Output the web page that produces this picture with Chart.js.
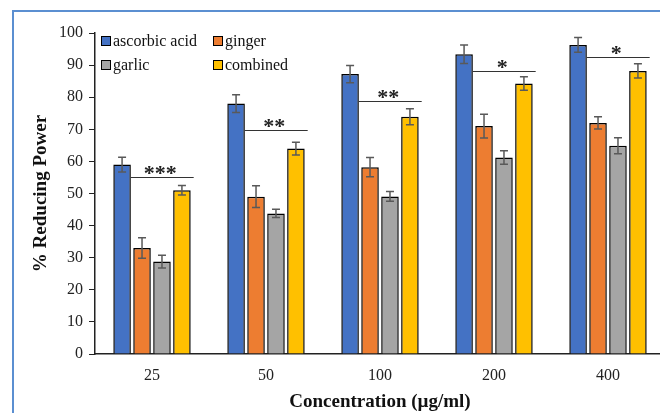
<!DOCTYPE html>
<html lang="en">
<head>
  <meta charset="UTF-8">
  <title>% Reducing Power</title>
  <script src="https://cdn.jsdelivr.net/npm/chart.js"></script>
  <style>
    html, body { margin: 0; padding: 0; background: #fff; overflow: hidden; }
    .wrap { position: relative; width: 665px; height: 413px; }
    .frame { position: absolute; left: 12px; top: 10px; width: 700px; height: 500px;
             border-left: 2px solid #5b8fd1; border-top: 2px solid #5b8fd1; pointer-events: none; }
  </style>
</head>
<body>
<div class="wrap">
  <canvas id="chart"></canvas>
  <div class="frame"></div>
</div>

<script>
  // values
  const categories = ['25', '50', '100', '200', '400'];
  const ascorbic = [59, 78, 87.2, 93.4, 96.3];
  const ginger = [33, 49, 58.2, 71, 72];
  const garlic = [28.8, 43.8, 49.1, 61.2, 64.9];
  const combined = [51, 64, 73.9, 84.3, 88.2];
  const ascorbicErr = [2.3, 2.8, 2.7, 2.9, 2.3];
  const gingerErr = [3.2, 3.4, 3, 3.7, 1.9];
  const garlicErr = [2, 1.3, 1.5, 2.1, 2.5];
  const combinedErr = [1.5, 2, 2.5, 2.1, 2.2];
  const sigLabels = ['***', '**', '**', '*', '*'];
  const sigLevel = [55, 69.7, 78.7, 88.3, 92.4];

  const serif = "'Liberation Serif', 'Times New Roman', serif";
  const errors = [ascorbicErr, gingerErr, garlicErr, combinedErr];

  const errorBars = {
    id: 'errorBars',
    afterDatasetsDraw(chart) {
      const ctx = chart.ctx, y = chart.scales.y;
      ctx.save();
      ctx.strokeStyle = '#595959';
      ctx.lineWidth = 1.5;
      chart.data.datasets.forEach((ds, i) => {
        chart.getDatasetMeta(i).data.forEach((bar, j) => {
          const v = ds.data[j], e = errors[i][j];
          const top = y.getPixelForValue(v + e), bot = y.getPixelForValue(v - e);
          ctx.beginPath();
          ctx.moveTo(bar.x, top); ctx.lineTo(bar.x, bot);
          ctx.moveTo(bar.x - 4, top); ctx.lineTo(bar.x + 4, top);
          ctx.moveTo(bar.x - 4, bot); ctx.lineTo(bar.x + 4, bot);
          ctx.stroke();
        });
      });
      ctx.restore();
    }
  };

  const significance = {
    id: 'significance',
    afterDatasetsDraw(chart) {
      const ctx = chart.ctx, y = chart.scales.y;
      const first = chart.getDatasetMeta(0).data, last = chart.getDatasetMeta(3).data;
      ctx.save();
      ctx.strokeStyle = '#333';
      ctx.lineWidth = 1;
      ctx.fillStyle = '#222';
      ctx.font = 'bold 22px ' + serif;
      ctx.textAlign = 'center';
      ctx.textBaseline = 'alphabetic';
      sigLevel.forEach((lvl, j) => {
        const x0 = first[j].x + first[j].width / 2;
        const x1 = last[j].x + last[j].width / 2 + 3;
        const py = Math.round(y.getPixelForValue(lvl)) + 0.5;
        ctx.beginPath();
        ctx.moveTo(x0, py); ctx.lineTo(x1, py);
        ctx.stroke();
        ctx.fillText(sigLabels[j], (x0 + x1) / 2 - 2, py + 2);
      });
      ctx.restore();
    }
  };

  const innerLegend = {
    id: 'innerLegend',
    afterDraw(chart) {
      const ctx = chart.ctx, a = chart.chartArea;
      const spots = [[6, 3], [118, 3], [6, 27], [118, 27]];
      ctx.save();
      ctx.font = '16px ' + serif;
      ctx.textBaseline = 'alphabetic';
      ctx.textAlign = 'left';
      chart.data.datasets.forEach((ds, i) => {
        const x = a.left + spots[i][0], yy = a.top + spots[i][1];
        ctx.fillStyle = ds.backgroundColor;
        ctx.fillRect(x, yy, 9, 9);
        ctx.strokeStyle = '#000';
        ctx.lineWidth = 1;
        ctx.strokeRect(x + 0.5, yy + 0.5, 9, 9);
        ctx.fillStyle = '#111';
        ctx.fillText(ds.label, x + 12, yy + 10);
      });
      ctx.restore();
    }
  };

  const mk = (label, data, color) => ({
    label: label, data: data, backgroundColor: color,
    borderColor: '#000', borderWidth: 1.5,
    categoryPercentage: 0.7, barPercentage: 0.88
  });

  new Chart(document.getElementById('chart'), {
    type: 'bar',
    data: {
      labels: categories,
      datasets: [
        mk('ascorbic acid', ascorbic, '#4472c4'),
        mk('ginger', ginger, '#ed7d31'),
        mk('garlic', garlic, '#a5a5a5'),
        mk('combined', combined, '#ffc000')
      ]
    },
    options: {
      responsive: true,
      maintainAspectRatio: false,
      animation: false,
      layout: { padding: { top: 33, right: 0, bottom: 0, left: 0 } },
      plugins: { legend: { display: false }, tooltip: { enabled: false } },
      scales: {
        x: {
          grid: { display: false, drawTicks: false },
          border: { display: true, color: '#222', width: 1.5 },
          ticks: { color: '#222', padding: 12, font: { family: serif, size: 16 } },
          title: { display: true, text: 'Concentration (µg/ml)', color: '#111',
                   font: { family: serif, size: 19, weight: 'bold' }, padding: { top: 0, bottom: 0 } },
          afterFit(s) { s.height = 59; }
        },
        y: {
          min: 0, max: 100,
          ticks: { stepSize: 10, color: '#222', padding: 6, font: { family: serif, size: 16 } },
          grid: { drawOnChartArea: false, drawTicks: true, tickLength: 6, color: '#222', lineWidth: 1 },
          border: { display: true, color: '#222', width: 1.5 },
          title: { display: true, text: '% Reducing Power', color: '#111',
                   font: { family: serif, size: 19, weight: 'bold' }, padding: { top: 30, bottom: 0 } },
          afterFit(s) { s.width = 95; }
        }
      }
    },
    plugins: [errorBars, significance, innerLegend]
  });
</script>
</body>
</html>
